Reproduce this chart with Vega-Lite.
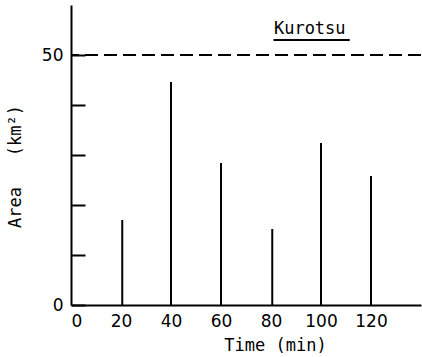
{
  "$schema": "https://vega.github.io/schema/vega-lite/v6.json",
  "width": 350,
  "height": 300,
  "autosize": {"type": "none"},
  "padding": {"left": 71, "top": 5, "right": 1, "bottom": 52},
  "background": "white",
  "config": {
    "view": {"stroke": null},
    "font": "DejaVu Sans Mono",
    "axis": {"grid": false, "domainColor": "black", "domainWidth": 2, "tickColor": "black", "labelColor": "black", "titleColor": "black", "labelFont": "DejaVu Sans", "labelFontSize": 17, "titleFont": "DejaVu Sans Mono", "titleFontSize": 17, "titleFontWeight": "normal"}
  },
  "datasets": {
    "peaks": [
      {"time": 20.5, "area": 17},
      {"time": 40, "area": 44.6},
      {"time": 60, "area": 28.4},
      {"time": 80.5, "area": 15.2},
      {"time": 100, "area": 32.4},
      {"time": 120, "area": 25.8}
    ],
    "label": [{"time": 95.5, "area": 55.2, "name": "Kurotsu", "x1": 81, "x2": 111.5, "uy": 53}]
  },
  "layer": [
    {
      "data": {"name": "peaks"},
      "mark": {"type": "rule", "color": "black", "strokeWidth": 2},
      "encoding": {
        "x": {
          "field": "time", "type": "quantitative",
          "scale": {"domain": [0, 140], "nice": false},
          "axis": {"values": [0, 20, 40, 60, 80, 100, 120], "ticks": false, "labelPadding": 8, "title": "Time (min)", "titleX": 204, "titleY": 40, "titleBaseline": "middle", "titleAnchor": null, "titleAlign": "center"}
        },
        "y": {
          "field": "area", "type": "quantitative",
          "scale": {"domain": [0, 60], "nice": false},
          "axis": {"values": [0, 10, 20, 30, 40, 50], "tickSize": -14, "tickWidth": 2, "labelPadding": 22, "labelExpr": "datum.value == 0 || datum.value == 50 ? datum.label : ''", "title": "Area\u00a0\u00a0\u00a0(km²)", "titleAngle": -90, "titleX": -56, "titleY": 161, "titleAlign": "center", "titleBaseline": "middle"}
        },
        "y2": {"datum": 0}
      }
    },
    {
      "data": {"values": [{"v": 50}]},
      "mark": {"type": "rule", "color": "black", "strokeWidth": 2, "strokeDash": [13, 6]},
      "encoding": {"y": {"field": "v", "type": "quantitative"}}
    },
    {
      "data": {"name": "label"},
      "mark": {"type": "text", "color": "black", "fontSize": 17, "font": "DejaVu Sans Mono", "baseline": "middle"},
      "encoding": {
        "x": {"field": "time", "type": "quantitative"},
        "y": {"field": "area", "type": "quantitative"},
        "text": {"field": "name"}
      }
    },
    {
      "data": {"name": "label"},
      "mark": {"type": "rule", "color": "black", "strokeWidth": 2},
      "encoding": {
        "x": {"field": "x1", "type": "quantitative"},
        "x2": {"field": "x2"},
        "y": {"field": "uy", "type": "quantitative"}
      }
    }
  ]
}
